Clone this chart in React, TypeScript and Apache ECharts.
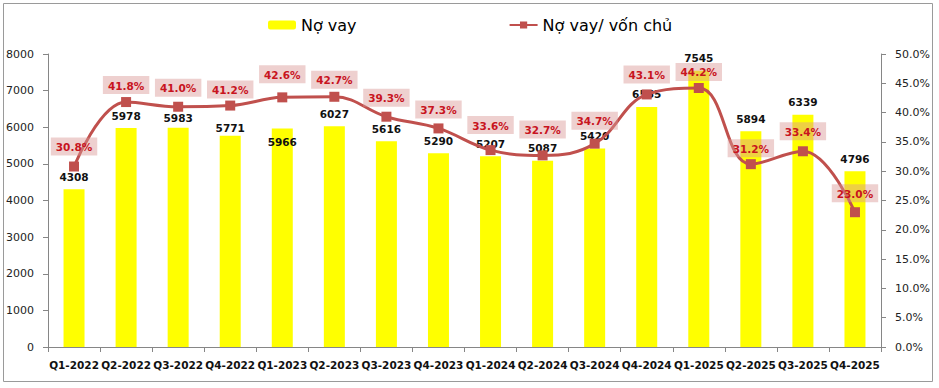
import React, { useEffect, useRef } from "react";
import * as echarts from "echarts";

const categories = [
  "Q1-2022", "Q2-2022", "Q3-2022", "Q4-2022",
  "Q1-2023", "Q2-2023", "Q3-2023", "Q4-2023",
  "Q1-2024", "Q2-2024", "Q3-2024", "Q4-2024",
  "Q1-2025", "Q2-2025", "Q3-2025", "Q4-2025",
];
const debt = [4308, 5978, 5983, 5771, 5966, 6027, 5616, 5290, 5207, 5087, 5420, 6555, 7545, 5894, 6339, 4796];
const debtToEquity = [30.8, 41.8, 41.0, 41.2, 42.6, 42.7, 39.3, 37.3, 33.6, 32.7, 34.7, 43.1, 44.2, 31.2, 33.4, 23.0];
const leftTicks = [0, 1000, 2000, 3000, 4000, 5000, 6000, 7000, 8000];
const rightTicks = [0, 5, 10, 15, 20, 25, 30, 35, 40, 45, 50];

const FONT = "DejaVu Sans";

export default function App() {
  const ref = useRef<HTMLDivElement>(null);
  useEffect(() => {
    if (!ref.current) return;
    const chart = echarts.init(ref.current, null, { renderer: "svg" });
    const barLabelShift: Record<number, number> = { 2: 3, 3: 5, 4: 26 };
    // vertical nudges of the ratio labels (pixels, negative = up)
    const lineLabelShift = [-2, 1, -1, 2, -5, 1, -1, -1, -7, -8, -5, -2, 2, 2, -2, -1];
    const option: any = {
      animation: false,
      backgroundColor: "#ffffff",
      textStyle: { fontFamily: FONT },
      graphic: [
        {
          type: "rect",
          shape: { x: 3.5, y: 3.5, width: 929, height: 378 },
          style: { fill: "none", stroke: "#9a9a9a", lineWidth: 1 },
          silent: true,
          z: -10,
        },
      ],
      legend: {
        left: 263,
        top: 12,
        itemWidth: 28,
        itemHeight: 9,
        itemGap: 152,
        textStyle: { fontFamily: FONT, fontSize: 16, color: "#000" },
        data: ["Nợ vay", "Nợ vay/ vốn chủ"],
      },
      grid: { left: 48, right: 58, top: 54, bottom: 41 },
      xAxis: {
        type: "category",
        data: categories,
        boundaryGap: true,
        axisLine: { show: true, lineStyle: { color: "#868686", width: 1 } },
        axisTick: { show: true, alignWithLabel: false, length: 5, lineStyle: { color: "#868686" } },
        axisLabel: {
          interval: 0,
          margin: 12,
          fontFamily: FONT,
          fontSize: 10.5,
          fontWeight: "bold",
          color: "#111",
        },
      },
      yAxis: [
        {
          type: "value",
          min: leftTicks[0],
          max: leftTicks[leftTicks.length - 1],
          interval: 1000,
          splitLine: { show: false },
          axisLine: { show: true, lineStyle: { color: "#868686" } },
          axisTick: { show: true, length: 5, lineStyle: { color: "#868686" } },
          axisLabel: {
            margin: 14,
            fontFamily: FONT,
            fontSize: 11,
            color: "#222",
            formatter: (v: number) => String(v),
          },
        },
        {
          type: "value",
          min: rightTicks[0],
          max: rightTicks[rightTicks.length - 1],
          interval: 5,
          position: "right",
          splitLine: { show: false },
          axisLine: { show: true, lineStyle: { color: "#868686" } },
          axisTick: { show: true, length: 5, lineStyle: { color: "#868686" } },
          axisLabel: {
            margin: 14,
            fontFamily: FONT,
            fontSize: 11,
            color: "#222",
            formatter: (v: number) => v.toFixed(1) + "%",
          },
        },
      ],
      series: [
        {
          name: "Nợ vay",
          type: "bar",
          yAxisIndex: 0,
          barWidth: 21,
          itemStyle: { color: "#FFFF00" },
          data: debt.map((v, i) => ({
            value: v,
            label: barLabelShift[i] ? { offset: [0, barLabelShift[i]] } : undefined,
          })),
          label: {
            show: true,
            position: "top",
            distance: 7,
            fontFamily: FONT,
            fontSize: 10.5,
            fontWeight: "bold",
            color: "#111",
          },
          z: 2,
        },
        {
          name: "Nợ vay/ vốn chủ",
          type: "line",
          yAxisIndex: 1,
          data: debtToEquity.map((v, i) => ({
            value: v,
            label: { offset: [0, lineLabelShift[i]] },
          })),
          smooth: 0.4,
          symbol: "rect",
          symbolSize: 10,
          lineStyle: { color: "#C0504D", width: 3 },
          itemStyle: { color: "#C0504D" },
          label: {
            show: true,
            position: "top",
            distance: 4,
            fontFamily: FONT,
            fontSize: 10.5,
            fontWeight: "bold",
            color: "#C8141E",
            backgroundColor: "rgba(217,150,148,0.45)",
            padding: [4, 5, 3, 5],
            formatter: (p: any) => Number(p.value).toFixed(1) + "%",
          },
          z: 3,
        },
      ],
    };
    chart.setOption(option);
    return () => chart.dispose();
  }, []);
  return (
    <div
      ref={ref}
      style={{ position: "fixed", left: 0, top: 0, width: 939, height: 388 }}
    />
  );
}
